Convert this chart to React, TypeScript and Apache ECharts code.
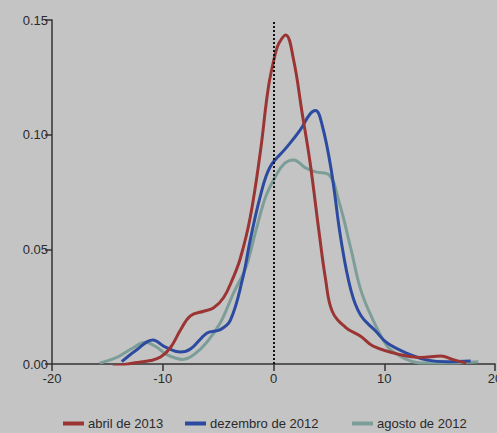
import React, { useEffect, useRef } from "react";
import * as echarts from "echarts";

const seriesNames = ["abril de 2013", "dezembro de 2012", "agosto de 2012"];

const abril2013: [number, number][] = [
  [-14.5, -0.001], [-12.5, 0.0005], [-11.1, 0.0015], [-10.2, 0.003], [-9.3, 0.0072],
  [-8.4, 0.0148], [-7.5, 0.021], [-6.3, 0.023], [-5.4, 0.0245], [-4.5, 0.029],
  [-3.7, 0.037], [-3.0, 0.046], [-2.1, 0.064], [-1.2, 0.092], [-0.45, 0.121],
  [0.2, 0.136], [0.5, 0.14], [1.1, 0.1435], [1.8, 0.133], [2.6, 0.109],
  [3.3, 0.088], [4.1, 0.058], [4.7, 0.037], [5.3, 0.023], [6.5, 0.016],
  [7.9, 0.012], [9.0, 0.0078], [11.5, 0.004], [13.3, 0.0028], [15.1, 0.0035],
  [16.3, 0.0018], [17.4, 0.0004],
];

const dezembro2012: [number, number][] = [
  [-13.7, 0.001], [-12.4, 0.006], [-10.9, 0.0105], [-9.8, 0.0075], [-8.4, 0.0052],
  [-7.5, 0.0065], [-6.0, 0.0135], [-4.8, 0.015], [-3.9, 0.019], [-2.8, 0.037],
  [-2.1, 0.054], [-1.2, 0.073], [-0.3, 0.086], [1.1, 0.094], [2.4, 0.102],
  [3.3, 0.109], [3.8, 0.1105], [4.4, 0.104], [5.2, 0.085], [6.1, 0.054],
  [7.0, 0.032], [7.9, 0.021], [9.2, 0.0145], [10.3, 0.009], [12.4, 0.004],
  [13.9, 0.0017], [15.7, 0.001], [17.8, 0.0013],
];

const agosto2012: [number, number][] = [
  [-15.7, 0.0004], [-14.1, 0.003], [-12.7, 0.007], [-11.6, 0.0095], [-10.6, 0.0075],
  [-9.6, 0.004], [-8.2, 0.002], [-7.2, 0.004], [-6.0, 0.0096], [-4.8, 0.018],
  [-3.6, 0.031], [-2.5, 0.042], [-1.6, 0.058], [-0.7, 0.073], [0.2, 0.082],
  [1.0, 0.0875], [1.8, 0.089], [2.9, 0.0855], [3.8, 0.0838], [5.0, 0.0825],
  [5.9, 0.071], [7.0, 0.05], [7.9, 0.032], [9.0, 0.019], [9.9, 0.0105],
  [10.5, 0.0065], [11.8, 0.0025], [13.3, 0.0004], [15.7, 0.0004], [18.5, 0.001],
];

const seriesColors = ["#9b3534", "#2c4ba0", "#7d9e98"];
const legendLefts = [63, 185, 352];

export default function App() {
  const ref = useRef<HTMLDivElement>(null);
  useEffect(() => {
    if (!ref.current) return;
    const chart = echarts.init(ref.current, undefined, { renderer: "svg" });
    const datas = [abril2013, dezembro2012, agosto2012];
    chart.setOption({
      animation: false,
      backgroundColor: "#c4c4c4",
      textStyle: { fontFamily: "Liberation Sans, Arial, sans-serif" },
      grid: { left: 52, right: 2, top: 20, bottom: 69, containLabel: false, outerBoundsMode: "none" },
      legend: seriesNames.map((n, i) => ({
        data: [n],
        left: legendLefts[i],
        top: 417,
        itemWidth: 21,
        itemHeight: 4,
        itemGap: 6,
        icon: "rect",
        padding: 0,
        textStyle: { fontSize: 13, color: "#2a2a2a", padding: [0, 0, 0, -1] },
      })),
      xAxis: {
        type: "value",
        min: -20,
        max: 20,
        interval: 10,
        axisLine: { onZero: false, lineStyle: { color: "#333", width: 1.5 } },
        axisTick: { show: true, length: 7, lineStyle: { color: "#333", width: 1.5 } },
        axisLabel: { color: "#2a2a2a", fontSize: 13, margin: 8 },
        splitLine: { show: false },
      },
      yAxis: {
        type: "value",
        min: 0,
        max: 0.15,
        interval: 0.05,
        axisLine: { show: true, onZero: false, lineStyle: { color: "#333", width: 1.5 } },
        axisTick: { show: true, length: 7, lineStyle: { color: "#333", width: 1.5 } },
        axisLabel: { color: "#2a2a2a", fontSize: 13, margin: 4, formatter: (v: number) => v.toFixed(2) },
        splitLine: { show: false },
      },
      series: seriesNames.map((n, i) => ({
        name: n,
        type: "line",
        data: datas[i],
        smooth: 0.4,
        showSymbol: false,
        color: seriesColors[i],
        lineStyle: { width: 3, color: seriesColors[i] },
        z: 3 - i,
        markLine:
          i === 0
            ? {
                silent: true,
                symbol: "none",
                label: { show: false },
                lineStyle: { type: [2, 2], color: "#111", width: 2 },
                data: [{ xAxis: 0 }],
              }
            : undefined,
      })),
    });
    return () => chart.dispose();
  }, []);
  return <div ref={ref} style={{ width: 497, height: 433, position: "absolute", left: 0, top: 0 }} />;
}
